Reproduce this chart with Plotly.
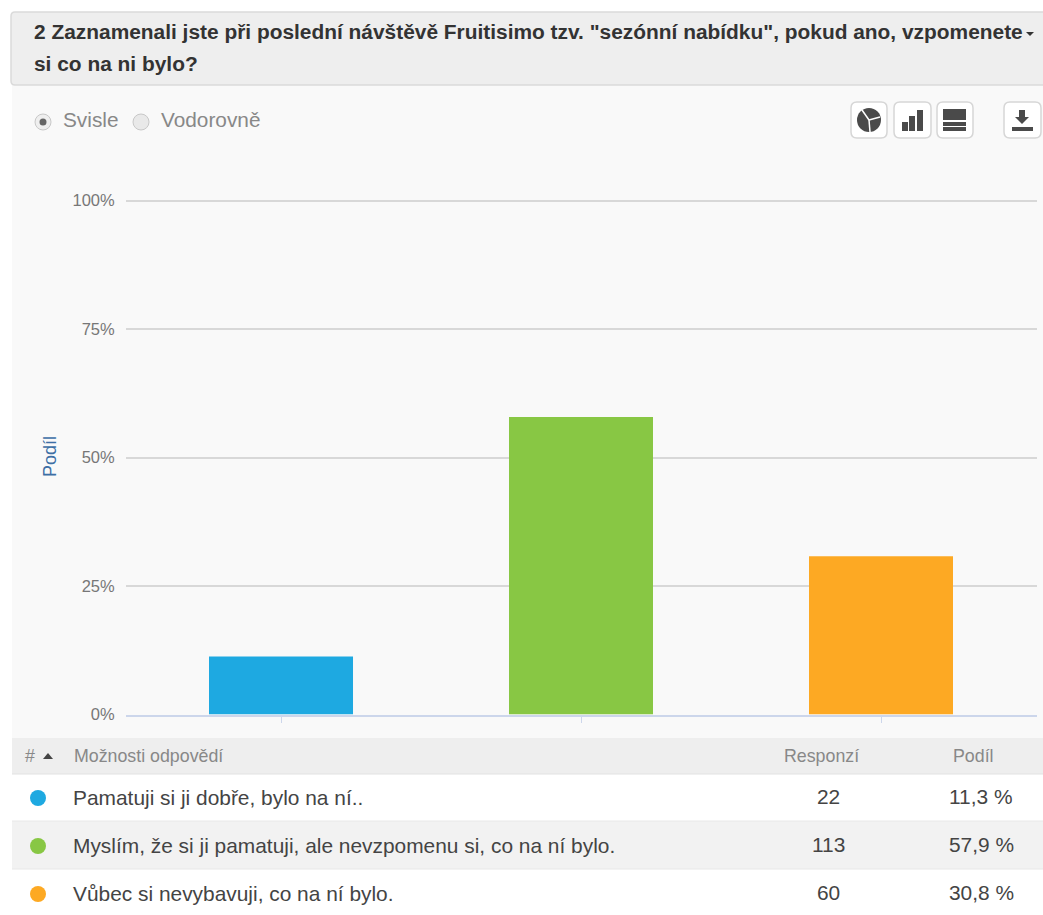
import plotly.graph_objects as go

W, H = 1043, 915

# ---- data ----
answers = ["Pamatuji si ji dobře, bylo na ní..",
           "Myslím, že si ji pamatuji, ale nevzpomenu si, co na ní bylo.",
           "Vůbec si nevybavuji, co na ní bylo."]
responses = [22, 113, 60]
shares = [11.3, 57.9, 30.8]
share_labels = ["11,3 %", "57,9 %", "30,8 %"]
colors = ["#1EA9E1", "#88C744", "#FDA923"]
y_ticks = [0, 25, 50, 75, 100]
y_tick_labels = ["0%", "25%", "50%", "75%", "100%"]
title_lines = ['2 Zaznamenali jste při poslední návštěvě Fruitisimo tzv. "sezónní nabídku", pokud ano, vzpomenete',
               "si co na ni bylo?"]
FONT = "Liberation Sans, Arial, sans-serif"


def px(x):
    return x / W


def py(y):
    return 1 - y / H


shapes = []
annots = []


def rect(x0, y0, x1, y1, fill, line=None, lw=0):
    shapes.append(dict(type="rect", xref="paper", yref="paper", x0=px(x0), x1=px(x1), y0=py(y0), y1=py(y1),
                       fillcolor=fill, line=dict(color=line or fill, width=lw), layer="below"))


def round_rect(x0, y0, x1, y1, r, fill, line, lw=1.5):
    d = (f"M{px(x0 + r)},{py(y0)} L{px(x1 - r)},{py(y0)} Q{px(x1)},{py(y0)} {px(x1)},{py(y0 + r)} "
         f"L{px(x1)},{py(y1 - r)} Q{px(x1)},{py(y1)} {px(x1 - r)},{py(y1)} "
         f"L{px(x0 + r)},{py(y1)} Q{px(x0)},{py(y1)} {px(x0)},{py(y1 - r)} "
         f"L{px(x0)},{py(y0 + r)} Q{px(x0)},{py(y0)} {px(x0 + r)},{py(y0)} Z")
    shapes.append(dict(type="path", xref="paper", yref="paper", path=d, fillcolor=fill,
                       line=dict(color=line, width=lw), layer="below"))


def circle(cx, cy, r, fill, line=None, lw=0):
    shapes.append(dict(type="circle", xref="paper", yref="paper", x0=px(cx - r), x1=px(cx + r),
                       y0=py(cy + r), y1=py(cy - r), fillcolor=fill,
                       line=dict(color=line or fill, width=lw), layer="below"))


def poly(points, fill):
    d = "M" + " L".join(f"{px(x)},{py(y)}" for x, y in points) + " Z"
    shapes.append(dict(type="path", xref="paper", yref="paper", path=d, fillcolor=fill,
                       line=dict(width=0), layer="below"))


def seg(x0, y0, x1, y1, color, lw):
    shapes.append(dict(type="line", xref="paper", yref="paper", x0=px(x0), x1=px(x1), y0=py(y0), y1=py(y1),
                       line=dict(color=color, width=lw), layer="below"))


def text(x, y, s, size, color, anchor="left", bold=False):
    annots.append(dict(xref="paper", yref="paper", x=px(x), y=py(y), text=f"<b>{s}</b>" if bold else s,
                       showarrow=False, xanchor=anchor, yanchor="middle",
                       font=dict(family=FONT, size=size, color=color), borderpad=0, borderwidth=0))


# panels
rect(12, 85, W, 738, "#F9F9F9")
round_rect(11, 12, W + 6, 85, 4, "#EEEEEE", "#DADADA", 1.5)
rect(12, 738, W, 774, "#EEEEEE")
rect(12, 774, W, 821, "#FFFFFF")
rect(12, 821, W, 869, "#F2F2F2")
rect(12, 869, W, 915, "#FFFFFF")
seg(12, 774, W, 774, "#E2E2E2", 1)
seg(12, 821, W, 821, "#E8E8E8", 1)
seg(12, 869, W, 869, "#E8E8E8", 1)

# question header
DARK = "#333333"
text(34, 32, title_lines[0], 20.9, DARK, bold=True)
text(34, 63, title_lines[1], 20.9, DARK, bold=True)
poly([(1026, 32), (1034, 32), (1030, 36)], DARK)

# radio buttons
circle(43, 122, 8, "#EFEFEF", "#C8C8C8", 1)
circle(43, 122, 3.5, "#666666")
circle(141, 122, 8, "#E9E9E9", "#C8C8C8", 1)
text(63, 119, "Svisle", 20.8, "#888888")
text(161, 119, "Vodorovně", 20.8, "#888888")

# toolbar icons
ICON = "#4A4A4A"
for x0, x1 in [(851, 887), (894, 931), (937, 973), (1004, 1041)]:
    round_rect(x0, 102, x1, 138, 6, "#FFFFFF", "#D6D6D6", 1.5)
circle(869, 120, 12, ICON)
seg(869, 120, 862, 110, "#FFFFFF", 1.5)
seg(869, 120, 880, 117, "#FFFFFF", 1.5)
seg(869, 120, 870, 132, "#FFFFFF", 1.5)
rect(902, 122, 908, 131, ICON)
rect(909, 116, 915, 131, ICON)
rect(917, 110, 923, 131, ICON)
rect(943, 109, 966, 120, ICON)
rect(943, 122, 966, 126, ICON)
rect(943, 127, 966, 131, ICON)
rect(1019, 110, 1025, 117, ICON)
poly([(1015, 117), (1029, 117), (1022, 124)], ICON)
rect(1012, 127, 1033, 131, ICON)

# table header
GREY = "#888888"
text(25, 756, "#", 17.8, GREY)
poly([(43, 759), (53, 759), (48, 753)], "#444444")
text(74, 756, "Možnosti odpovědí", 17.8, GREY)
text(821, 756, "Responzí", 17.8, GREY, "center")
text(973, 756, "Podíl", 17.8, GREY, "center")

# table rows
row_y = [798, 846, 894]
for yy, a, r, s, c in zip(row_y, answers, responses, share_labels, colors):
    circle(38, yy, 8, c)
    text(73, yy - 1, a, 20.9, "#444444")
    text(828, yy - 2, str(r), 20.9, "#444444", "center")
    text(981, yy - 2, s, 20.9, "#444444", "center")

fig = go.Figure(go.Bar(x=[0, 1, 2], y=shares, marker=dict(color=colors, line=dict(width=0)),
                       width=0.48, hoverinfo="skip"))
fig.update_layout(
    width=W, height=H, margin=dict(l=0, r=0, t=0, b=0), paper_bgcolor="#FFFFFF", plot_bgcolor="rgba(0,0,0,0)",
    showlegend=False, shapes=shapes, annotations=annots, font=dict(family=FONT),
    xaxis=dict(domain=[px(126), px(1037)], range=[-0.5167, 2.52], tickvals=[0, 1, 2], ticktext=["", "", ""],
               ticks="outside", ticklen=6, tickcolor="#CCD6EB", tickwidth=1, showgrid=False,
               showline=True, linecolor="#CCD6EB", linewidth=2, zeroline=False, anchor="y"),
    yaxis=dict(domain=[py(714.5), py(198.44)], range=[0, 100.4], tickmode="array", tickvals=y_ticks,
               ticktext=y_tick_labels,
               tickfont=dict(size=16.5, color="#777777", family=FONT), gridcolor="#D8D8D8", gridwidth=1.5,
               zeroline=False, showline=False, ticks="outside", ticklen=7, tickcolor="rgba(0,0,0,0)",
               automargin=False,
               title=dict(text="Podíl", font=dict(size=18, color="#3D6FA5", family=FONT), standoff=11)),
)
fig.write_html("out.html", config={"displayModeBar": False},
               post_script="document.body.style.margin='0';")
